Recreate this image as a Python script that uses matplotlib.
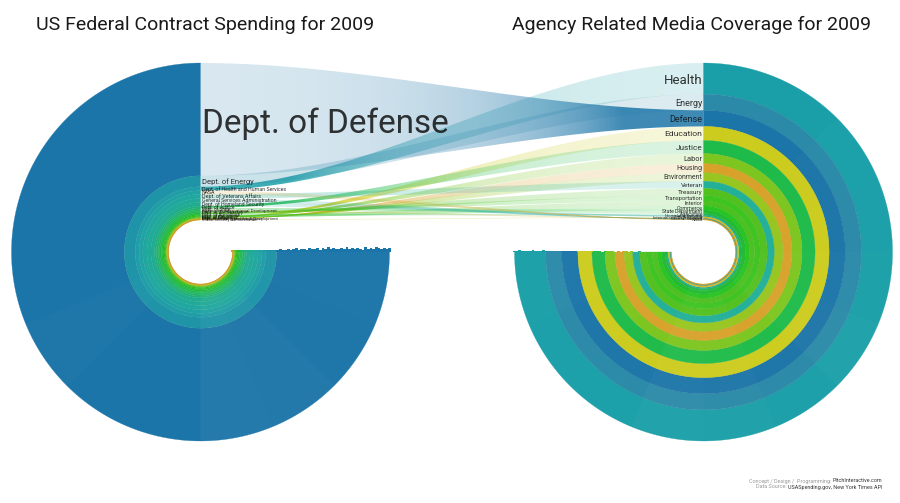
import numpy as np
import matplotlib
matplotlib.use('Agg')
import matplotlib.pyplot as plt
from matplotlib.colors import to_rgb
from matplotlib.path import Path
from matplotlib.patches import PathPatch

plt.rcParams['font.family'] = ['Roboto', 'DejaVu Sans']

# contract spending 2009, billions of dollars
spending_names = ['Dept. of Defense', 'Dept. of Energy', 'Dept. of Health and Human Services', 'NASA',
                  'Dept. of Veterans Affairs', 'General Services Administration', 'Dept. of Homeland Security',
                  'Dept. of Justice', 'Dept. of State', 'Agency for International Development',
                  'Dept. of Transportation', 'Dept. of the Treasury', 'Dept. of Agriculture',
                  'Dept. of the Interior', 'Dept. of Commerce', 'Dept. of Labor', 'Dept. of Education',
                  'Environmental Protection Agency', 'Dept. of Housing and Urban Development',
                  'Social Security Administration']
spending = [373, 36, 13, 12, 14, 13, 12, 6, 6, 5, 5, 4.5, 4, 3.5, 3, 2.5, 2, 1.8, 1.5, 1.2]
spending_colors = ['#1c75a8', '#1f94a8', '#1f9ea8', '#20a3a4', '#20a8a0', '#20aa9a', '#20ac90', '#20b080',
                   '#20b470', '#20b860', '#1fba50', '#1fbc40', '#20be30', '#28c020', '#3cc21f', '#66c41f',
                   '#9cc41f', '#c8c41f', '#d8a820', '#d89a20']

# media coverage 2009, articles
coverage_names = ['Health', 'Energy', 'Defense', 'Education', 'Justice', 'Labor', 'Housing', 'Environment',
                  'Veteran', 'Treasury', 'Transportation', 'Interior', 'Commerce', 'State Department',
                  'Agriculture', 'Homeland Security', 'Social Security', 'International Development',
                  'General Services', 'NASA']
coverage = [310, 160, 160, 140, 130, 100, 90, 85, 70, 70, 55, 50, 40, 35, 20, 13, 10, 9, 7, 6]
coverage_colors = ['#1a9fa8', '#2a8aa8', '#1c75a8', '#cccc1e', '#1fbb4a', '#7cc61f', '#d8a22a', '#96c61f',
                   '#22b098', '#52c01f', '#3cc41f', '#4cc020', '#28c41f', '#1fbb30', '#1fb84a', '#20a8a0',
                   '#cccc1e', '#d8a020', '#20a8a0', '#d8a020']

# which spending row feeds each coverage row
link_source = [2, 1, 0, 16, 7, 15, 18, 17, 4, 11, 10, 13, 14, 8, 12, 6, 19, 9, 5, 3]

# brightness of each of the 12 sectors, going round from 12 o'clock
left_tint = [0, 0.005, 0, 0.005, 0, 0.01, 0.005, 0, 0.04, 0.03, 0.01, 0.02]
right_tint = [0, 0.005, 0.01, 0.015, 0.025, 0.035, 0.015, 0.03, 0.04, 0.01, 0.015, 0.025]

# uneven height of the ring ends, inner to outer radius
left_jag = [.5, .4, .6, .5, .4, .6, .5, .7, .5, .6, .8, .5, .9, .6, 1.0, .7, 1.3, .8, 1.6, .9, 1.2, 2.0, 1.1, 1.4,
            2.4, 1.0, 1.8, 2.2, 1.2, 2.6, 1.5, 2.0, 3.0, 1.3, 2.4, 1.8, 3.4, 1.6, 2.8, 2.0, 1.4, 3.0, 2.2, 3.6,
            1.5, 2.6, 1.8, 3.2, 2.2, 1.2, 3.4, 2.0, 2.8, 1.6, 3.6, 2.4, 1.8, 3.0, 2.2, 2.6]
right_jag = [.2, .2, .3, .2, .3, .2, .4, .2, .3, .5, .3, .2, .6, .3, .5, .9, .4, .7, 1.0, .4, .8, .5, 1.1, .6, .9,
             1.2, .5, .8, 1.3, .6, 1.0, .7, 1.4, .8, 1.1, .6, 1.3, .9, .7, 1.5, .8, 1.2, 1.0, .6, 1.5, .9, 1.3, .7,
             1.6, 1.0, 1.4, .8, 1.7, 1.1, .9, 1.5, 1.2, 1.8, .9, 1.4]

CY, R_OUT, R_IN = 252, 189, 32
LEFT_X, RIGHT_X = 200.5, 703.5
TOP = CY - R_OUT
SPAN = R_OUT - R_IN


def ring(cx, r0, r1, a0, a1):
    t = np.radians(np.linspace(a0, a1, 200))
    xs = np.r_[cx + r0 * np.cos(t), cx + r1 * np.cos(t[::-1])]
    ys = np.r_[CY - r0 * np.sin(t), CY - r1 * np.sin(t[::-1])]
    return xs, ys


def draw_rings(ax, cx, widths, colors, a0, a1, tint, jag, lift):
    edges = R_OUT - np.r_[0, np.cumsum(widths)]
    for i in range(len(widths)):
        xs, ys = ring(cx, edges[i], edges[i + 1], a0, a1)
        ax.fill(xs, ys, color=colors[i], lw=0.2, zorder=2)
        t = np.radians(np.linspace(a0, a1, 200))
        ax.plot(cx + edges[i + 1] * np.cos(t), CY - edges[i + 1] * np.sin(t), color='k', lw=0.3, alpha=0.05, zorder=3)
    step = (a1 - a0) / len(tint)
    for i, a in enumerate(tint):
        xs, ys = ring(cx, R_IN, R_OUT, a0 + i * step, a0 + (i + 1) * step)
        ax.fill(xs, ys, color='white', alpha=a, lw=0, zorder=3)
    # jagged end of the rings
    radii = np.linspace(R_IN, R_OUT, len(jag))
    side = 1 if a1 > a0 else -1
    bar_colors = [colors[min(np.searchsorted(-edges, -r) - 1, len(colors) - 1)] if r < R_OUT else colors[0] for r in radii]
    ax.bar(cx + side * radii, -(np.array(jag) + lift), bottom=CY, width=SPAN / len(jag) * 1.02, color=bar_colors, lw=0, zorder=2)


def draw_link(ax, y0, w0, y1, w1, color):
    xs = np.linspace(LEFT_X, RIGHT_X, 200)
    u = (xs - LEFT_X) / (RIGHT_X - LEFT_X)
    s = u * u * (3 - 2 * u)
    top = y0 + (y1 - y0) * s
    bot = (y0 + w0) + (y1 + w1 - y0 - w0) * s
    rgba = np.zeros((1, 200, 4))
    rgba[..., :3] = to_rgb(color)
    # the band gets denser where it narrows
    rgba[..., 3] = np.clip(0.17 * max(w0, w1) / (bot - top), 0.17, 0.85)
    im = ax.imshow(rgba, extent=(LEFT_X, RIGHT_X, 503, 0), aspect='auto', zorder=1, interpolation='bilinear')
    verts = np.r_[np.c_[xs, top], np.c_[xs[::-1], bot[::-1]]]
    im.set_clip_path(PathPatch(Path(verts), transform=ax.transData))


def label_size(w):
    return np.interp(w, [0.5, 4, 10, 31, 113], [3.0, 3.8, 5.3, 9.5, 24])


fig = plt.figure(figsize=(9, 5.03), dpi=100)
ax = fig.add_axes([0, 0, 1, 1])

left_w = np.array(spending) * SPAN / sum(spending)
right_w = np.array(coverage) * SPAN / sum(coverage)
left_top = TOP + np.r_[0, np.cumsum(left_w)[:-1]]
right_top = TOP + np.r_[0, np.cumsum(right_w)[:-1]]

# rows inside a spending band stay whole, one band per coverage row
for j, i in enumerate(link_source):
    draw_link(ax, left_top[i], left_w[i], right_top[j], right_w[j], coverage_colors[j])

draw_rings(ax, LEFT_X, left_w, spending_colors, 90, 360, left_tint, left_jag, 1.2)
draw_rings(ax, RIGHT_X, right_w, coverage_colors, 90, -180, right_tint, right_jag, 0)

for name, y, w in zip(spending_names, left_top, left_w):
    ax.text(LEFT_X + 1.5, y + w * 0.535, name, ha='left', va='center', fontsize=label_size(w), color='#111111', alpha=0.85, zorder=5)
for name, y, w in zip(coverage_names, right_top, right_w):
    ax.text(RIGHT_X - 1, y + w * 0.55, name, ha='right', va='center', fontsize=label_size(w), color='#111111', alpha=0.85, zorder=5)

ax.text(36, 25, 'US Federal Contract Spending for 2009', fontsize=14, color='#1a1a1a', va='center')
ax.text(512, 25, 'Agency Related Media Coverage for 2009', fontsize=14, color='#1a1a1a', va='center')

credit1 = ax.text(882, 481, 'PitchInteractive.com', ha='right', va='center', fontsize=3.9, color='#333333')
ax.annotate('Concept / Design /  Programming: ', xy=(0, 0.5), xycoords=credit1, ha='right', va='center', fontsize=3.9, color='#999999')
credit2 = ax.text(882, 487, 'USASpending.gov, New York Times API', ha='right', va='center', fontsize=3.9, color='#333333')
ax.annotate('Data Source: ', xy=(0, 0.5), xycoords=credit2, ha='right', va='center', fontsize=3.9, color='#999999')

ax.set_xlim(0, 900)
ax.set_ylim(503, 0)
ax.axis('off')
fig.savefig('out.png', dpi=100)
